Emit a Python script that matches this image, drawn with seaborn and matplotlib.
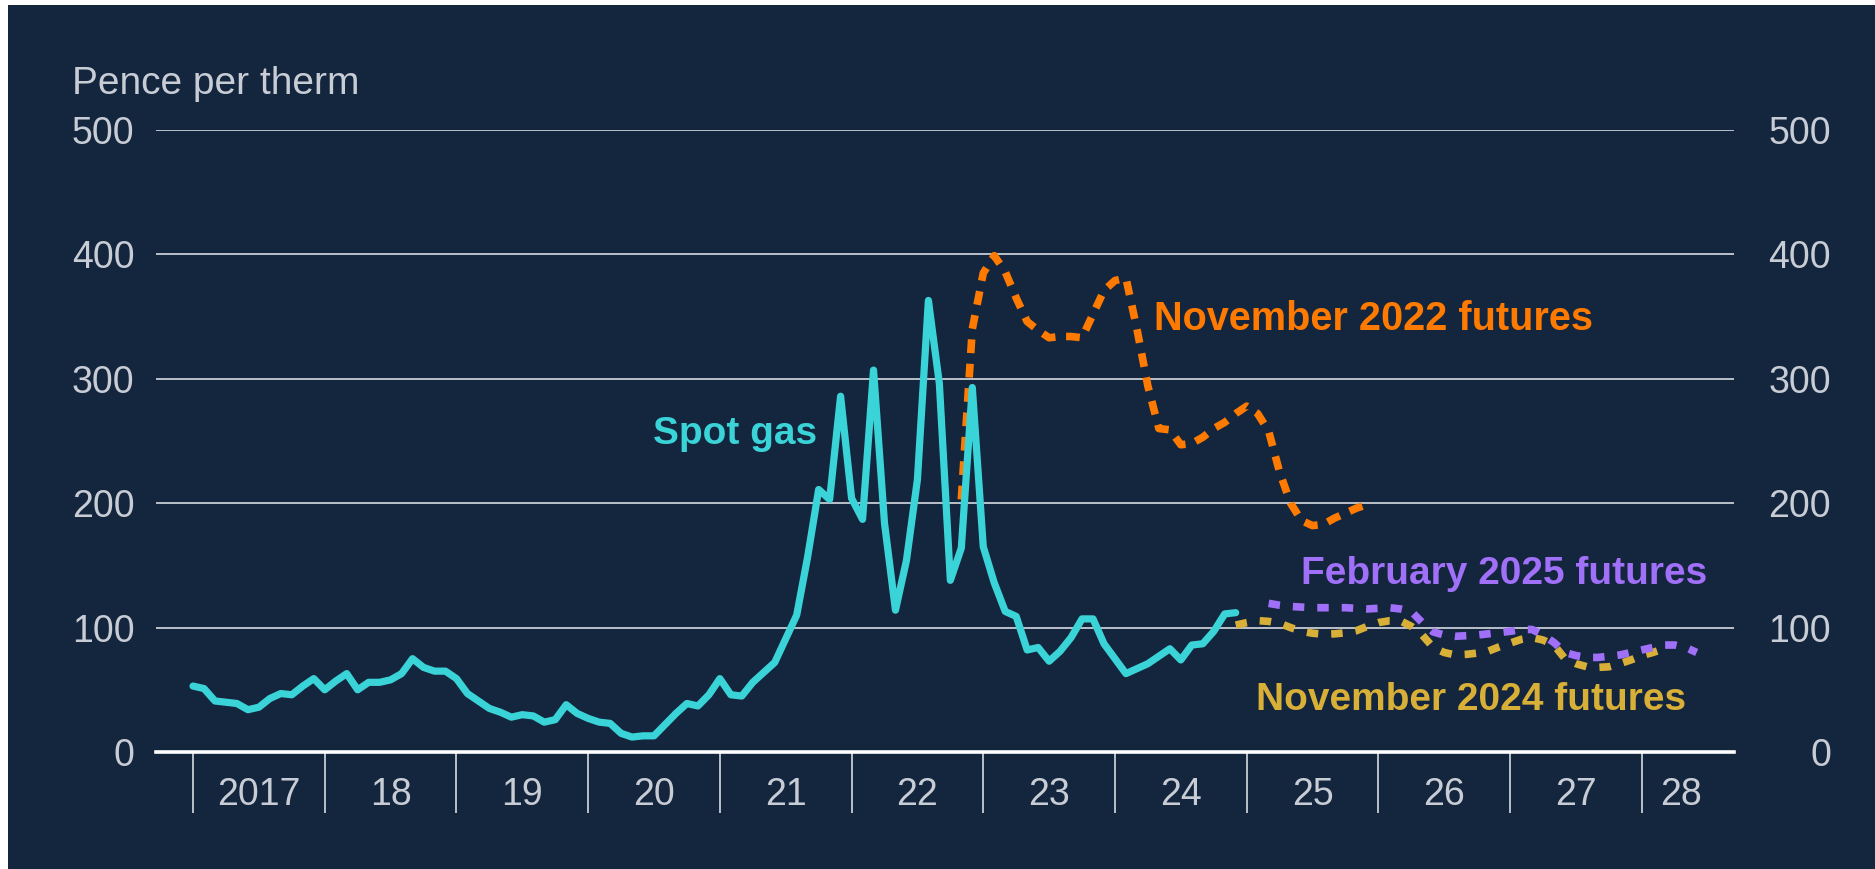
import numpy as np
import pandas as pd
import matplotlib.pyplot as plt
from matplotlib.patches import Rectangle
import seaborn as sns

# ── data (pence per therm, monthly) ─────────────────────────
spot_start = "2017-01"
spot_gas = [
    53, 51, 41, 40, 39, 34, 36, 43, 47, 46, 53, 59,          # 2017
    50, 57, 63, 50, 56, 56, 58, 63, 75, 68, 65, 65,          # 2018
    59, 47, 41, 35, 32, 28, 30, 29, 24, 26, 38, 31,          # 2019
    27, 24, 23, 15, 12, 13, 13, 22, 31, 39, 37, 46,          # 2020
    59, 46, 45, 56, 64, 72, 91, 110, 157, 211, 203, 286,     # 2021
    204, 187, 307, 184, 114, 154, 219, 363, 296, 138, 164, 293,  # 2022
    165, 136, 113, 109, 82, 84, 73, 81, 92, 107, 107, 87,    # 2023
    75, 63, 67, 71, 77, 83, 74, 86, 87, 97, 111, 112,        # 2024
]

nov22_start = "2022-11"
nov22_futures = [
    203, 340, 385, 399, 386, 365, 346, 339, 333, 334, 334, 333,
    352, 371, 379, 381, 340, 294, 260, 259, 247, 248, 253, 260,
    265, 272, 278, 272, 258, 225, 200, 186, 182, 183, 188, 192,
    196, 199,
]

nov24_start = "2024-12"
nov24_futures = [
    102, 104, 105.6, 105, 103.5, 100, 97, 95.5, 94.7, 95, 95.8, 97.5,
    101, 104, 105.5, 105.5, 101, 94, 84, 80, 78, 78.5, 79.5, 81,
    84.5, 87.5, 90.5, 92, 90, 86, 75, 71, 68.5, 68, 68.5, 71,
    74, 77.5, 80, 83,
]

feb25_start = "2025-03"
feb25_futures = [
    119.5, 118, 117, 116.5, 116, 116, 116, 116, 115.5, 115, 115.5, 116,
    115, 113, 104, 96.5, 94, 93, 93.5, 94, 95, 96, 97, 98.5,
    98.5, 94, 88, 80, 77.5, 76, 76, 77, 78, 80, 82, 84,
    86, 86, 84, 80,
]

years = list(range(2017, 2029))
year_labels = ["2017", "18", "19", "20", "21", "22", "23", "24", "25", "26", "27", "28"]
y_ticks = [0, 100, 200, 300, 400, 500]


def monthly_frame(start, values):
    d = pd.date_range(start, periods=len(values), freq="MS")
    return pd.DataFrame({"t": d.year + (d.month - 1) / 12, "v": values})


BG = "#14253e"
TXT = "#c8cdd5"
CYAN = "#3ad4d8"
ORANGE = "#ff7a00"
PURPLE = "#a070f8"
GOLD = "#d8b038"

sns.set_theme(style="dark")
plt.rcParams["font.family"] = ["Liberation Sans", "DejaVu Sans"]

fig = plt.figure(figsize=(18.75, 8.69), dpi=100, facecolor="white")
# navy panel with thin white strip on top and left
fig.add_artist(Rectangle((8 / 1875, 0), 1, 1 - 5 / 869, transform=fig.transFigure,
                         facecolor=BG, edgecolor="none", zorder=-10))

ax = fig.add_axes([155.5 / 1875, 117 / 869, (1734 - 155.5) / 1875, 622 / 869])
ax.set_facecolor(BG)

sns.lineplot(data=monthly_frame(spot_start, spot_gas), x="t", y="v", ax=ax,
             color=CYAN, linewidth=5.2, solid_joinstyle="round", zorder=5)
futures = [(nov22_start, nov22_futures, ORANGE, [1.8, 1.4]),
           (nov24_start, nov24_futures, GOLD, [1.5, 1.7]),
           (feb25_start, feb25_futures, PURPLE, [1.5, 1.7])]
for start, vals, col, dash in futures:
    sns.lineplot(data=monthly_frame(start, vals), x="t", y="v", ax=ax,
                 color=col, linewidth=5.5, zorder=4)
    ax.lines[-1].set_dashes(dash)

ax.set_xlim(2016.715, 2028.70)
ax.set_ylim(0, 500)
ax.set_xlabel("")
ax.set_ylabel("")

# gridlines
ax.set_yticks(y_ticks)
ax.set_yticklabels([str(v) for v in y_ticks])
ax.yaxis.grid(True, color=TXT, linewidth=1.3)
ax.xaxis.grid(False)
ax.set_axisbelow(True)
ax.tick_params(axis="y", length=0, pad=15, labelsize=27, labelcolor=TXT)

# year separators as major ticks, year labels on minor ticks
ax.set_xticks(years)
ax.set_xticklabels([""] * len(years))
ax.set_xticks([y + 0.5 for y in years[:-1]] + [2028.3], minor=True)
ax.set_xticklabels(year_labels, minor=True)
ax.tick_params(axis="x", which="major", direction="out", length=44, width=1.3,
               color=TXT, bottom=True)
ax.tick_params(axis="x", which="minor", length=0, pad=18, labelsize=27,
               labelcolor=TXT, bottom=True)

for s in ["top", "left", "right"]:
    ax.spines[s].set_visible(False)
ax.spines["bottom"].set_color("white")
ax.spines["bottom"].set_linewidth(2.6)
ax.spines["bottom"].set_zorder(6)

# right-hand axis labels
ax2 = ax.twinx()
ax2.set_ylim(0, 500)
ax2.set_yticks(y_ticks)
ax2.set_yticklabels([str(v) for v in y_ticks])
ax2.tick_params(axis="y", length=0, pad=70, labelsize=27, labelcolor=TXT)
for lab in ax2.get_yticklabels():
    lab.set_horizontalalignment("right")
for s in ax2.spines.values():
    s.set_visible(False)
ax2.grid(False)

# series labels
ax.text(2021.74, 256, "Spot gas", color=CYAN, fontsize=28, fontweight="bold",
        ha="right", va="center")
ax.text(2024.30, 348, "November 2022 futures", color=ORANGE, fontsize=28.5,
        fontweight="bold", ha="left", va="center")
ax.text(2028.50, 143, "February 2025 futures", color=PURPLE, fontsize=28,
        fontweight="bold", ha="right", va="center")
ax.text(2028.34, 42, "November 2024 futures", color=GOLD, fontsize=28,
        fontweight="bold", ha="right", va="center")

fig.text(72 / 1875, 1 - 84 / 869, "Pence per therm", color=TXT, fontsize=28,
         ha="left", va="center")

plt.savefig("out.png", dpi=100, facecolor=fig.get_facecolor())
plt.close()
print("saved")
